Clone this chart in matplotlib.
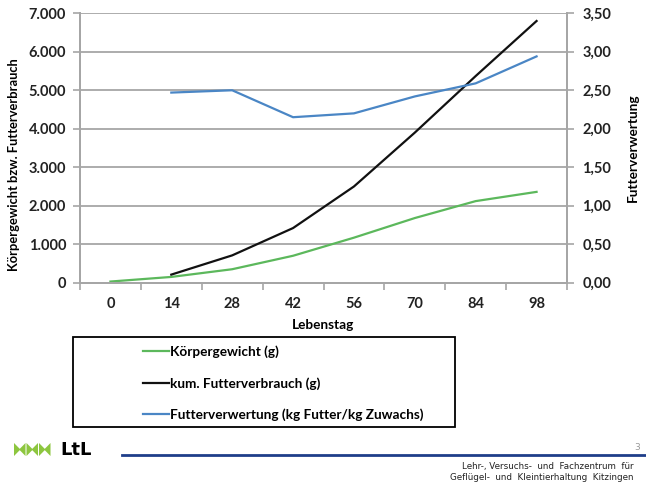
import numpy as np
import matplotlib
matplotlib.use("Agg")
import matplotlib.pyplot as plt
from matplotlib.ticker import FuncFormatter, FixedLocator
from matplotlib.patches import Rectangle, Polygon
from matplotlib.lines import Line2D

plt.rcParams['font.family'] = ['Lato', 'DejaVu Sans']

# Data
days = [0, 14, 28, 42, 56, 70, 84, 98]
weight = [30, 150, 350, 700, 1170, 1680, 2120, 2360]          # Körpergewicht (g)
days_feed = [14, 28, 42, 56, 70, 84, 98]
feed_cum = [210, 710, 1420, 2500, 3900, 5370, 6800]            # kum. Futterverbrauch (g)
fcr = [2.47, 2.50, 2.15, 2.20, 2.42, 2.59, 2.94]               # Futterverwertung

labels = ['Körpergewicht (g)', 'kum. Futterverbrauch (g)',
          'Futterverwertung (kg Futter/kg Zuwachs)']
c_green = '#5cb85c'
c_black = '#111111'
c_blue = '#4a86c5'
grid_c = '#a6a6a6'
fs = 9.8

W, H = 646, 484
fig = plt.figure(figsize=(W / 100, H / 100), dpi=100)
ax = fig.add_axes([80 / W, 1 - 282.7 / H, (567 - 80) / W, (282.7 - 13.3) / H])
ax2 = ax.twinx()

l1, = ax.plot(days, weight, color=c_green, lw=1.6)
l2, = ax.plot(days_feed, feed_cum, color=c_black, lw=1.6)
l3, = ax2.plot(days_feed, fcr, color=c_blue, lw=1.6)

ax.set_xlim(-7, 105)
ax.set_ylim(0, 7000)
ax2.set_ylim(0, 3.5)
ax.set_yticks(np.arange(0, 7001, 1000))
ax2.set_yticks(np.arange(0, 3.51, 0.5))
ax.yaxis.set_major_formatter(FuncFormatter(lambda v, p: f"{v:,.0f}".replace(",", ".")))
ax2.yaxis.set_major_formatter(FuncFormatter(lambda v, p: f"{v:.2f}".replace(".", ",")))

# category boundaries as tick marks, labels at the day positions
ax.xaxis.set_major_locator(FixedLocator(np.arange(-7, 106, 14)))
ax.xaxis.set_minor_locator(FixedLocator(days))
ax.xaxis.set_major_formatter(FuncFormatter(lambda v, p: ""))
ax.xaxis.set_minor_formatter(FuncFormatter(lambda v, p: f"{v:.0f}"))
ax.tick_params(axis='x', which='major', length=5, color=grid_c, width=1.2)
ax.tick_params(axis='x', which='minor', length=0, pad=10)
ax.tick_params(axis='y', length=5, color=grid_c, width=1.2, pad=5)
ax2.tick_params(axis='y', length=5, color=grid_c, width=1.2, pad=6)

for t in ax.get_xticklabels(minor=True) + ax.get_yticklabels() + ax2.get_yticklabels():
    t.set_fontsize(10.5)
    t.set_fontweight('bold')
    t.set_color('#222222')

ax.grid(axis='y', color=grid_c, lw=1.3)
ax.set_axisbelow(True)
for a in (ax, ax2):
    a.spines['top'].set_visible(False)
    for s in ('left', 'right', 'bottom'):
        a.spines[s].set_color(grid_c)
        a.spines[s].set_linewidth(1.3)

ax.set_xlabel('Lebenstag', fontsize=fs, fontweight='bold', labelpad=6)
ax.set_ylabel('Körpergewicht bzw. Futterverbrauch', fontsize=9.3, fontweight='bold',
              labelpad=6, y=0.44)
ax2.set_ylabel('Futterverwertung', fontsize=fs, fontweight='bold', labelpad=11)

# legend box
fig.patches.append(Rectangle((73 / W, 1 - 427 / H), (455 - 73) / W, (427 - 337) / H,
                             transform=fig.transFigure, fill=False, ec='black', lw=1.3))
fig.legend([l1, l2, l3], labels, loc='upper left', bbox_to_anchor=(131 / W, 1 - 333 / H),
           frameon=False, handlelength=1.9, handletextpad=0.1, labelspacing=1.4,
           prop={'size': fs, 'weight': 'bold'})

# footer: logo, rule, page number, institute
lg = '#8dc63f'
for i in range(3):
    x0 = (14 + i * 12.5) / W
    w = 11.5 / W
    y0, y1 = 1 - 456 / H, 1 - 443 / H
    d = (y1 - y0) * 0.45
    fig.patches.append(Polygon([(x0, y0), (x0, y1), (x0 + w / 2, y1 - d), (x0 + w, y1),
                                (x0 + w, y0), (x0 + w / 2, y0 + d)], closed=True,
                               transform=fig.transFigure, fc=lg, ec='none'))
fig.text(60 / W, 1 - 450 / H, 'LtL', fontsize=13, fontweight='bold', va='center', ha='left',
         family='DejaVu Sans')
fig.add_artist(Line2D([122 / W, 1.0], [1 - 455 / H, 1 - 455 / H], color='#1f3e8a', lw=2,
                      transform=fig.transFigure))
fig.text(640 / W, 1 - 447 / H, '3', fontsize=6.5, color='#999999', ha='right', va='center',
         family='DejaVu Sans')
fig.text(634 / W, 1 - 466 / H, 'Lehr-, Versuchs-  und  Fachzentrum  für', fontsize=6.3,
         ha='right', va='center', family='DejaVu Sans', color='#222222')
fig.text(634 / W, 1 - 478 / H, 'Geflügel-  und  Kleintierhaltung  Kitzingen', fontsize=6.3,
         ha='right', va='center', family='DejaVu Sans', color='#222222')

fig.savefig('out.png', dpi=100)
